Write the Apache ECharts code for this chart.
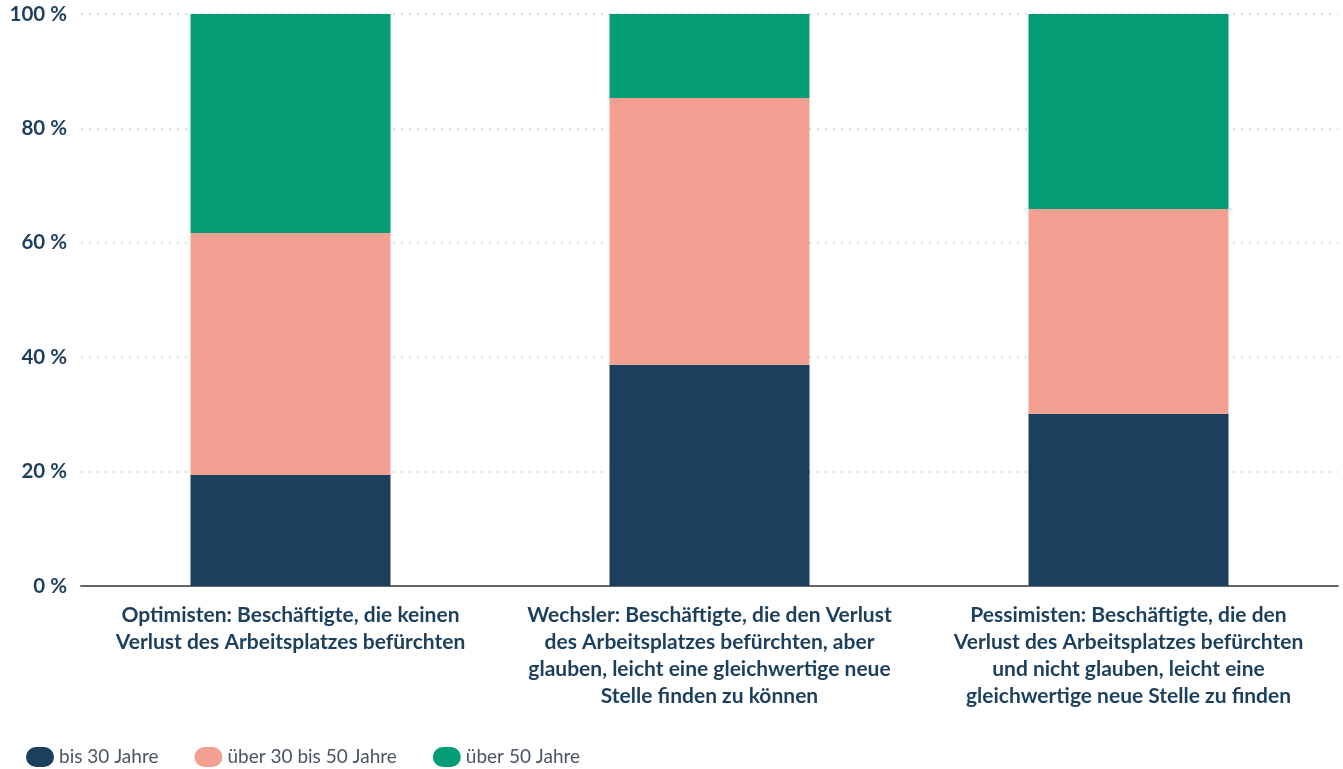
<!DOCTYPE html>
<html lang="de">
<head>
    <meta charset="UTF-8">
    <title>Altersstruktur</title>
    <script src="https://cdn.jsdelivr.net/npm/echarts@6/dist/echarts.min.js"></script>
    <style>
        html, body { margin: 0; padding: 0; background: #fff; }
        #main { width: 1343px; height: 769px; }
    </style>
</head>
<body>
<div id="main"></div>
<script>
    // Kategorien (Beschriftung der x-Achse)
    var categories = [
        'Optimisten: Beschäftigte, die keinen\nVerlust des Arbeitsplatzes befürchten',
        'Wechsler: Beschäftigte, die den Verlust\ndes Arbeitsplatzes befürchten, aber\nglauben, leicht eine gleichwertige neue\nStelle finden zu können',
        'Pessimisten: Beschäftigte, die den\nVerlust des Arbeitsplatzes befürchten\nund nicht glauben, leicht eine\ngleichwertige neue Stelle zu finden'
    ];
    var seriesNames = ['bis 30 Jahre', 'über 30 bis 50 Jahre', 'über 50 Jahre'];
    // Anteile in Prozent
    var bis30 = [19.4, 38.7, 30.1];
    var von30bis50 = [42.3, 46.6, 35.8];
    var ueber50 = [38.3, 14.7, 34.1];
    var colors = ['#1c3f5e', '#f3a093', '#059d75'];

    var fontFam = '"Source Sans Pro", Lato, "Noto Sans", sans-serif';
    var chart = echarts.init(document.getElementById('main'));

    function mkSeries(name, data, color) {
        return {
            name: name,
            type: 'bar',
            stack: 'total',
            barWidth: 200,
            data: data,
            itemStyle: { color: color },
            emphasis: { disabled: true }
        };
    }

    var option = {
        animation: false,
        color: colors,
        grid: { left: 81, right: 5, top: 14, bottom: 183, containLabel: false },
        legend: {
            left: 21,
            top: 742,
            itemWidth: 28,
            itemHeight: 20,
            itemGap: 36,
            icon: 'path://M10,0 H18 A10,10 0 0 1 18,20 H10 A10,10 0 0 1 10,0 Z',
            textStyle: { fontFamily: fontFam, fontSize: 19, color: '#4a5563' },
            data: seriesNames
        },
        xAxis: {
            type: 'category',
            data: categories,
            axisLine: { lineStyle: { color: '#666', width: 2 } },
            axisTick: { show: false },
            axisLabel: {
                interval: 0,
                margin: 16,
                fontFamily: fontFam,
                fontSize: 21,
                fontWeight: 'bold',
                lineHeight: 27,
                color: '#1c3f5e',
                align: 'center'
            }
        },
        yAxis: {
            type: 'value',
            min: 0,
            max: 100,
            interval: 20,
            axisLine: { show: false },
            axisTick: { show: false },
            splitLine: { lineStyle: { color: '#c5d0da', type: [2, 6], width: 1.5 } },
            axisLabel: {
                margin: 14,
                fontFamily: fontFam,
                fontSize: 20.5,
                fontWeight: 'bold',
                color: '#1c3f5e',
                formatter: '{value} %'
            }
        },
        series: [
            mkSeries(seriesNames[0], bis30, colors[0]),
            mkSeries(seriesNames[1], von30bis50, colors[1]),
            mkSeries(seriesNames[2], ueber50, colors[2])
        ]
    };
    chart.setOption(option);
</script>
</body>
</html>
